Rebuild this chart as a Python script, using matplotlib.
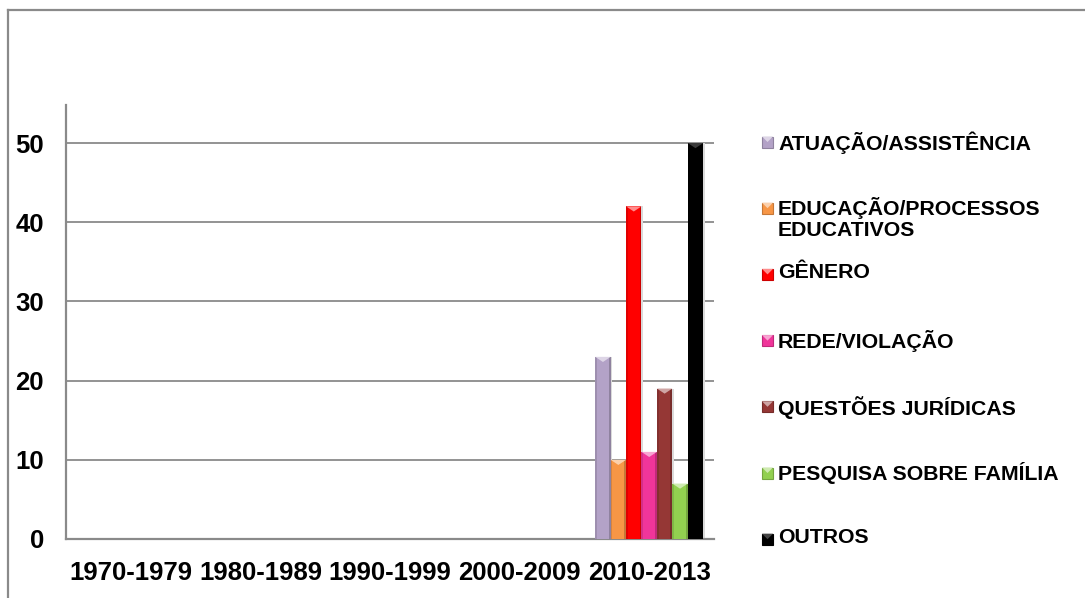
import matplotlib
matplotlib.use("Agg")
import matplotlib.pyplot as plt
from matplotlib.patches import Rectangle, Polygon
from matplotlib.lines import Line2D
from matplotlib.colors import to_rgb
import numpy as np

plt.rcParams['font.family'] = ['Liberation Sans', 'DejaVu Sans']
plt.rcParams['font.weight'] = 'bold'

periods = ["1970-1979", "1980-1989", "1990-1999", "2000-2009", "2010-2013"]
series_names = [
    "ATUAÇÃO/ASSISTÊNCIA",
    "EDUCAÇÃO/PROCESSOS\nEDUCATIVOS",
    "GÊNERO",
    "REDE/VIOLAÇÃO",
    "QUESTÕES JURÍDICAS",
    "PESQUISA SOBRE FAMÍLIA",
    "OUTROS",
]
series_colors = ["#b3a2c7", "#f79646", "#ff0000", "#f0359a", "#953735", "#92d050", "#000000"]
# one value per period, per theme
series_values = [
    [0, 0, 0, 0, 23],
    [0, 0, 0, 0, 10],
    [0, 0, 0, 0, 42],
    [0, 0, 0, 0, 11],
    [0, 0, 0, 0, 19],
    [0, 0, 0, 0, 7],
    [0, 0, 0, 0, 50],
]
y_ticks = [0, 10, 20, 30, 40, 50]

W, H = 1085, 598
fig = plt.figure(figsize=(W / 100, H / 100), dpi=100)
fig.patch.set_facecolor("white")

ax = fig.add_axes([66 / W, 1 - 539 / H, 648 / W, 434 / H])
ax.set_xlim(-0.5, len(periods) - 0.5)
ax.set_ylim(0, 54.8)


def lighten(c, f):
    r, g, b = to_rgb(c)
    return (r + (1 - r) * f, g + (1 - g) * f, b + (1 - b) * f)


def darken(c, f):
    return tuple(f * v for v in to_rgb(c))


n = len(series_names)
bw = 0.119
x = np.arange(len(periods))
tri_h = 0.65
for i, (vals, col) in enumerate(zip(series_values, series_colors)):
    xs = x + (i - (n - 1) / 2) * bw
    # soft shadow to the right of each bar
    ax.bar(xs + 0.014, vals, width=bw, color="#dadada", zorder=2, linewidth=0)
    ax.bar(xs, vals, width=bw, color=col, zorder=3, linewidth=0)
    for xc, v in zip(xs, vals):
        if v <= 0:
            continue
        x0, x1 = xc - bw / 2, xc + bw / 2
        # darker side edges give the bar a rounded look
        ax.add_patch(Rectangle((x0, 0), bw * 0.12, v, color=darken(col, 0.88), zorder=3.5, linewidth=0))
        ax.add_patch(Rectangle((x1 - bw * 0.12, 0), bw * 0.12, v, color=darken(col, 0.8), zorder=3.5, linewidth=0))
        # pyramid cap on top
        ax.add_patch(Polygon([(x0, v), (x1, v), (xc, v - tri_h)], closed=True,
                             color=lighten(col, 0.55) if col != "#000000" else "#3a3a3a",
                             zorder=4, linewidth=0))

ax.set_yticks(y_ticks)
ax.set_yticklabels([str(t) for t in y_ticks])
ax.set_xticks(x)
ax.set_xticklabels(periods)
ax.tick_params(axis="both", length=0, labelsize=18.5)
ax.tick_params(axis="y", pad=16)
ax.tick_params(axis="x", pad=16)
for lbl in ax.get_xticklabels() + ax.get_yticklabels():
    lbl.set_fontweight("bold")

ax.grid(axis="y", color="#8a8a8a", linewidth=1.3, zorder=1)
ax.set_axisbelow(True)
for s in ["top", "right"]:
    ax.spines[s].set_visible(False)
for s in ["left", "bottom"]:
    ax.spines[s].set_color("#8a8a8a")
    ax.spines[s].set_linewidth(1.6)

# legend drawn as a fixed-pitch list of swatches and labels
leg_x = 762
leg_y0 = 142
pitch = 66.2
for i, (name, col) in enumerate(zip(series_names, series_colors)):
    yc = leg_y0 + i * pitch
    sw = 11
    fig.add_artist(Rectangle((leg_x / W, 1 - (yc + sw / 2) / H), sw / W, sw / H,
                             transform=fig.transFigure, facecolor=col,
                             edgecolor=darken(col, 0.8), linewidth=0.8))
    fig.add_artist(Polygon([(leg_x / W, 1 - (yc - sw / 2) / H), ((leg_x + sw) / W, 1 - (yc - sw / 2) / H),
                            ((leg_x + sw / 2) / W, 1 - yc / H)], closed=True,
                           transform=fig.transFigure,
                           facecolor=lighten(col, 0.55) if col != "#000000" else "#444444",
                           linewidth=0))
    fig.text((leg_x + 16) / W, 1 - (yc - 11) / H, name, fontsize=15.3, fontweight="bold",
             ha="left", va="top", linespacing=1.15)

# outer frame (top and left edges)
fig.add_artist(Line2D([8 / W, 1], [1 - 10 / H, 1 - 10 / H], transform=fig.transFigure,
                      color="#8a8a8a", linewidth=1.6))
fig.add_artist(Line2D([8 / W, 8 / W], [0, 1 - 10 / H], transform=fig.transFigure,
                      color="#8a8a8a", linewidth=1.6))

fig.savefig("out.png", dpi=100)
